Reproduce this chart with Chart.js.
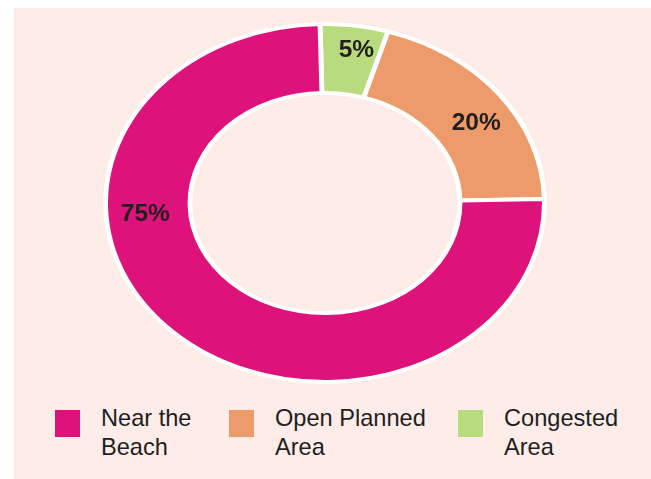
<!DOCTYPE html>
<html>
<head>
<meta charset="utf-8">
<script src="https://cdn.jsdelivr.net/npm/chart.js@4/dist/chart.umd.min.js"></script>
<style>
  html, body { margin: 0; padding: 0; background: #ffffff; }
  body { width: 651px; height: 479px; position: relative; overflow: hidden; font-family: "Liberation Sans", Arial, sans-serif; }
  #panel { position: absolute; left: 14px; top: 8px; width: 637px; height: 471px; background: #fdece7; }
  #ring { position: absolute; left: 95px; top: 22px; }
  #legend { position: absolute; left: 0; top: 404px; width: 651px; height: 70px; }
  .item { position: absolute; top: 0; display: flex; align-items: flex-start; }
  .swatch { width: 25px; height: 27px; margin-top: 6px; }
  .text { margin-left: 21px; font-size: 23.6px; line-height: 29px; color: #1f1f1f; }
</style>
</head>
<body>
<div id="panel"></div>
<canvas id="ring" width="460" height="362"></canvas>
<div id="legend"></div>
<script>
// Slices listed clockwise from the top of the ring
const categories = ["Congested Area", "Open Planned Area", "Near the Beach"];
const shares = [5, 20, 75];
const sliceColors = ["#b8dc7d", "#ed9b6b", "#dd127b"];
// Legend lines, listed in legend order (left to right)
const legendLines = [["Near the", "Beach"], ["Open Planned", "Area"], ["Congested", "Area"]];
const legendColors = ["#dd127b", "#ed9b6b", "#b8dc7d"];
const legendLeft = [55, 229, 458];

// Horizontal stretch that turns the round doughnut into an ellipse
const STRETCH = 1.226;

const ellipse = {
  id: 'ellipse',
  beforeDatasetsDraw(chart) {
    const arc = chart.getDatasetMeta(0).data[0];
    const ctx = chart.ctx;
    ctx.save();
    ctx.translate(arc.x, 0);
    ctx.scale(STRETCH, 1);
    ctx.translate(-arc.x, 0);
  },
  afterDatasetsDraw(chart, args, opts) {
    const ctx = chart.ctx;
    ctx.restore();
    const meta = chart.getDatasetMeta(0);
    ctx.save();
    ctx.font = 'bold 24.5px "Liberation Sans", Arial, sans-serif';
    ctx.fillStyle = '#231f20';
    ctx.textAlign = 'center';
    ctx.textBaseline = 'middle';
    meta.data.forEach((arc, i) => {
      const p = arc.getProps(['x', 'y', 'startAngle', 'endAngle', 'innerRadius', 'outerRadius'], true);
      let a = (p.startAngle + p.endAngle) / 2;
      if (opts.angleOverride[i] != null) a = opts.angleOverride[i] * Math.PI / 180 - Math.PI / 2;
      const r = opts.radius[i];
      const x = p.x + STRETCH * r * Math.cos(a);
      const y = p.y + r * Math.sin(a);
      ctx.fillText(shares[i] + '%', x, y);
    });
    ctx.restore();
  }
};

new Chart(document.getElementById('ring'), {
  type: 'doughnut',
  data: {
    labels: categories,
    datasets: [{
      data: shares,
      backgroundColor: sliceColors,
      borderColor: '#ffffff',
      borderWidth: 4,
      hoverOffset: 0
    }]
  },
  options: {
    responsive: false,
    animation: false,
    rotation: -1.3,
    cutout: '61.5%',
    layout: { padding: 0 },
    plugins: {
      legend: { display: false },
      tooltip: { enabled: false },
      ellipse: { radius: [155, 147, 147], angleOverride: [9.5, 57, 265.5] }
    }
  },
  plugins: [ellipse]
});

// Legend underneath the ring
const legend = document.getElementById('legend');
legendLines.forEach((lines, i) => {
  const item = document.createElement('div');
  item.className = 'item';
  item.style.left = legendLeft[i] + 'px';
  const sw = document.createElement('div');
  sw.className = 'swatch';
  sw.style.background = legendColors[i];
  const tx = document.createElement('div');
  tx.className = 'text';
  tx.innerHTML = lines.join('<br>');
  item.appendChild(sw);
  item.appendChild(tx);
  legend.appendChild(item);
});
</script>
</body>
</html>
